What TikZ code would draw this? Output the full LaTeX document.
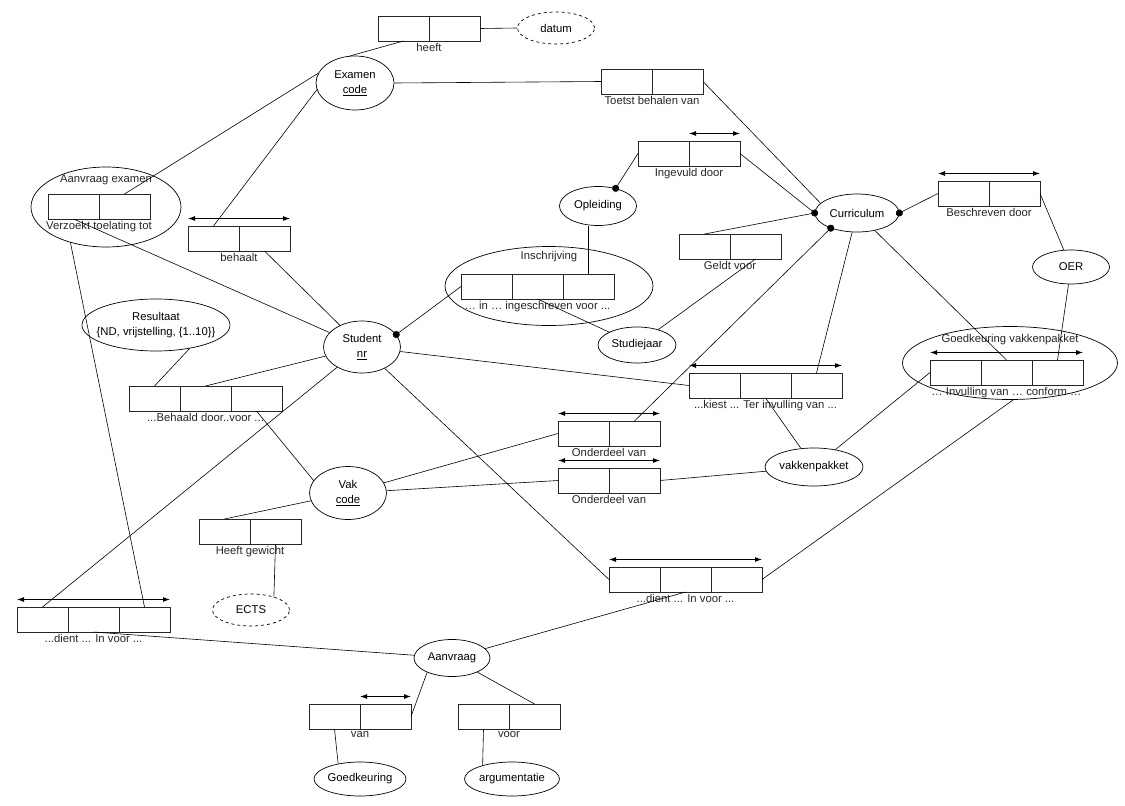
\documentclass[tikz,border=0pt]{standalone}
\usepackage{fontspec}
\setmainfont{Liberation Sans}
\usetikzlibrary{shapes.geometric,arrows.meta,positioning}

\begin{document}
\begin{tikzpicture}[
  x=1pt, y=-1pt,
  font=\fontsize{11.3}{15}\selectfont,
  ent/.style={ellipse, draw=black, line width=0.7pt, inner sep=-3pt, align=center},
  valent/.style={ent, dashed},
  nested/.style={ellipse, draw=black, line width=0.7pt, inner sep=0pt},
  cell/.style={rectangle, draw=black!85, line width=0.9pt, minimum width=51pt,
               minimum height=25pt, inner sep=0pt, outer sep=0pt},
  rlbl/.style={inner sep=1pt, text=black!85},
  conn/.style={line width=0.6pt},
  dotconn/.style={conn, -{Circle[length=7pt]}, shorten >=-3.5pt},
  uniq/.style={{Latex[length=7pt,width=5pt]}-{Latex[length=7pt,width=5pt]}, line width=0.9pt}
]
\useasboundingbox (0,0) rectangle (1125,806);

%--- Object types ---
\node[valent, minimum width=77pt, minimum height=32pt] (datum) at (556,28) {datum};
\node[ent, minimum width=78pt, minimum height=54pt] (examen) at (355,83) {Examen\\\underline{code}};
\node[ent, minimum width=77pt, minimum height=39pt] (opleiding) at (598,206) {Opleiding};
\node[ent, minimum width=84pt, minimum height=38pt] (curriculum) at (857,213) {Curriculum};
\node[ent, minimum width=77pt, minimum height=34pt] (oer) at (1071,267) {OER};
\node[ent, minimum width=78pt, minimum height=36pt] (studiejaar) at (637,345) {Studiejaar};
\node[ent, minimum width=77pt, minimum height=52pt] (student) at (362,347) {Student\\\underline{nr}};
\node[ent, inner xsep=-11pt, minimum width=148pt, minimum height=52pt] (resultaat) at (156,325)
  {Resultaat\\\{ND, vrijstelling, \{1..10\}\}};
\node[ent, minimum width=77pt, minimum height=53pt] (vak) at (348,493) {Vak\\\underline{code}};
\node[ent, minimum width=98pt, minimum height=38pt] (vakkenpakket) at (814,467) {vakkenpakket};
\node[valent, minimum width=77pt, minimum height=32pt] (ects) at (251,610) {ECTS};
\node[ent, minimum width=76pt, minimum height=37pt] (aanvraag) at (452,658) {Aanvraag};
\node[ent, minimum width=92pt, minimum height=34pt] (goedkeuring) at (360,779) {Goedkeuring};
\node[ent, minimum width=95pt, minimum height=34pt] (argumentatie) at (512,779) {argumentatie};

%--- Nested (objectified) fact types ---
\node[nested, minimum width=150pt, minimum height=80pt] (aanvrEx) at (106,207) {};
\node[rlbl] (aanvrExL) at (106,180) {Aanvraag examen};
\node[nested, minimum width=208pt, minimum height=79pt] (inschr) at (549,286) {};
\node[rlbl] (inschrL) at (549,257) {Inschrijving};
\node[nested, minimum width=215pt, minimum height=73pt] (goedk) at (1010,363) {};
\node[rlbl] (goedkL) at (1010,340) {Goedkeuring vakkenpakket};

%--- Fact types (roles) ---
\node[cell] (heeft1) at (403.5,28.5) {};
\node[cell, right=0pt of heeft1] (heeft2) {};
\node[rlbl, below=1pt of heeft1.south east] (heeftL) {heeft};

\node[cell] (toetst1) at (626.5,81.5) {};
\node[cell, right=0pt of toetst1] (toetst2) {};
\node[rlbl, below=1pt of toetst1.south east] (toetstL) {Toetst behalen van};

\node[cell] (ingevuld1) at (663.5,153.5) {};
\node[cell, right=0pt of ingevuld1] (ingevuld2) {};
\node[rlbl, below=1pt of ingevuld1.south east] (ingevuldL) {Ingevuld door};

\node[cell] (verzoekt1) at (73.5,206.5) {};
\node[cell, right=0pt of verzoekt1] (verzoekt2) {};
\node[rlbl, below=1pt of verzoekt1.south east] (verzoektL) {Verzoekt toelating tot};

\node[cell] (behaalt1) at (213.5,238.5) {};
\node[cell, right=0pt of behaalt1] (behaalt2) {};
\node[rlbl, below=1pt of behaalt1.south east] (behaaltL) {behaalt};

\node[cell] (beschreven1) at (963.5,193.5) {};
\node[cell, right=0pt of beschreven1] (beschreven2) {};
\node[rlbl, below=1pt of beschreven1.south east] (beschrevenL) {Beschreven door};

\node[cell] (geldt1) at (704.5,246.5) {};
\node[cell, right=0pt of geldt1] (geldt2) {};
\node[rlbl, below=1pt of geldt1.south east] (geldtL) {Geldt voor};

\node[cell] (inschrBox1) at (486.5,286.5) {};
\node[cell, right=0pt of inschrBox1] (inschrBox2) {};
\node[cell, right=0pt of inschrBox2] (inschrBox3) {};
\node[rlbl, below=1pt of inschrBox2.south] (inschrBoxL) {… in … ingeschreven voor ...};

\node[cell] (invulling1) at (955.5,372.5) {};
\node[cell, right=0pt of invulling1] (invulling2) {};
\node[cell, right=0pt of invulling2] (invulling3) {};
\node[rlbl, below=1pt of invulling2.south] (invullingL) {… Invulling van … conform …};

\node[cell] (kiest1) at (714.5,385.5) {};
\node[cell, right=0pt of kiest1] (kiest2) {};
\node[cell, right=0pt of kiest2] (kiest3) {};
\node[rlbl, below=1pt of kiest2.south] (kiestL) {...kiest ... Ter invulling van ...};

\node[cell] (behaald1) at (154.5,398.5) {};
\node[cell, right=0pt of behaald1] (behaald2) {};
\node[cell, right=0pt of behaald2] (behaald3) {};
\node[rlbl, below=1pt of behaald2.south] (behaaldL) {...Behaald door..voor ...};

\node[cell] (onderdeelA1) at (583.5,433.5) {};
\node[cell, right=0pt of onderdeelA1] (onderdeelA2) {};
\node[rlbl, below=1pt of onderdeelA1.south east] (onderdeelAL) {Onderdeel van};

\node[cell] (onderdeelB1) at (583.5,480.5) {};
\node[cell, right=0pt of onderdeelB1] (onderdeelB2) {};
\node[rlbl, below=1pt of onderdeelB1.south east] (onderdeelBL) {Onderdeel van};

\node[cell] (gewicht1) at (224.5,531.5) {};
\node[cell, right=0pt of gewicht1] (gewicht2) {};
\node[rlbl, below=1pt of gewicht1.south east] (gewichtL) {Heeft gewicht};

\node[cell] (dientR1) at (634.5,579.5) {};
\node[cell, right=0pt of dientR1] (dientR2) {};
\node[cell, right=0pt of dientR2] (dientR3) {};
\node[rlbl, below=1pt of dientR2.south] (dientRL) {...dient ... In voor ...};

\node[cell] (dientL1) at (42.5,619.5) {};
\node[cell, right=0pt of dientL1] (dientL2) {};
\node[cell, right=0pt of dientL2] (dientL3) {};
\node[rlbl, below=1pt of dientL2.south] (dientLL) {...dient ... In voor ...};

\node[cell] (van1) at (334.5,716.5) {};
\node[cell, right=0pt of van1] (van2) {};
\node[rlbl, below=1pt of van1.south east] (vanL) {van};

\node[cell] (voor1) at (483.5,716.5) {};
\node[cell, right=0pt of voor1] (voor2) {};
\node[rlbl, below=1pt of voor1.south east] (voorL) {voor};

%--- Uniqueness constraints ---
\draw[uniq] ([yshift=7.5pt]ingevuld2.north west) -- ([yshift=7.5pt]ingevuld2.north east);
\draw[uniq] ([yshift=7.5pt]behaalt1.north west) -- ([yshift=7.5pt]behaalt2.north east);
\draw[uniq] ([yshift=7.5pt]beschreven1.north west) -- ([yshift=7.5pt]beschreven2.north east);
\draw[uniq] ([yshift=7.5pt]invulling1.north west) -- ([yshift=7.5pt]invulling3.north east);
\draw[uniq] ([yshift=7.5pt]kiest1.north west) -- ([yshift=7.5pt]kiest3.north east);
\draw[uniq] ([yshift=7.5pt]onderdeelA1.north west) -- ([yshift=7.5pt]onderdeelA2.north east);
\draw[uniq] ([yshift=7.5pt]onderdeelB1.north west) -- ([yshift=7.5pt]onderdeelB2.north east);
\draw[uniq] ([yshift=7.5pt]dientR1.north west) -- ([yshift=7.5pt]dientR3.north east);
\draw[uniq] ([yshift=7.5pt]dientL1.north west) -- ([yshift=7.5pt]dientL3.north east);
\draw[uniq] ([yshift=7.5pt]van2.north west) -- ([yshift=7.5pt]van2.north east);

%--- Role connectors ---
\draw[conn] (heeft2.east) -- (datum.west);
\draw[conn] (heeft1.south) -- (examen.100);
\draw[conn] (examen.east) -- (toetst1.west);
\draw[conn] (toetst2.east) -- (curriculum.165);
\draw[conn] (examen.165) -- (verzoekt2.north);
\draw[conn] (examen.190) -- (behaalt1.north);
\draw[dotconn] (ingevuld1.west) -- (opleiding.45);
\draw[dotconn] (ingevuld2.east) -- (curriculum.west);
\draw[conn] (geldt1.north) -- (curriculum.west);
\draw[conn] (geldt2.south) -- (studiejaar);
\draw[conn] (inschrBox2.south) -- (studiejaar);
\draw[conn] (inschrBox3.north) -- (inschrBox3.north |- opleiding.south);
\draw[dotconn] (inschrBox1.west) -- (student.20);
\draw[conn] (verzoekt1.south) -- (student);
\draw[conn] (behaalt2.south) -- (student);
\draw[conn] (behaald2.north) -- (student);
\draw[conn] (dientL1.north) -- (student);
\draw[conn] (student) -- (kiest1.west);
\draw[conn] (student) -- (dientR1.west);
\draw[conn] (aanvrEx.225) -- (dientL3.north);
\draw[conn] (resultaat.-35) -- (behaald1.north);
\draw[conn] (behaald3.south) -- (vak.160);
\draw[conn] (vak) -- (onderdeelA1.west);
\draw[conn] (vak) -- (onderdeelB1.west);
\draw[conn] (vak) -- (gewicht1.north);
\draw[conn] (gewicht2.south) -- (ects.30);
\draw[dotconn] (onderdeelA2.north) -- (curriculum.210);
\draw[conn] (onderdeelB2.east) -- (vakkenpakket);
\draw[dotconn] (beschreven1.west) -- (curriculum.east);
\draw[conn] (beschreven2.east) -- (oer);
\draw[conn] (invulling3.north) -- (oer);
\draw[conn] (invulling2.north) -- (curriculum);
\draw[conn] (kiest3.north) -- (curriculum);
\draw[conn] (kiest2.south) -- (vakkenpakket);
\draw[conn] (vakkenpakket) -- (invulling1.west);
\draw[conn] (dientR3.east) -- (goedk.275);
\draw[conn] (dientL2.south) -- (aanvraag);
\draw[conn] (aanvraag) -- (dientR2.south);
\draw[conn] (aanvraag.210) -- (van2.east);
\draw[conn] (aanvraag) -- (voor2.north);
\draw[conn] (van1.south) -- (goedkeuring.145);
\draw[conn] (voor1.south) -- (argumentatie.155);

\end{tikzpicture}
\end{document}
